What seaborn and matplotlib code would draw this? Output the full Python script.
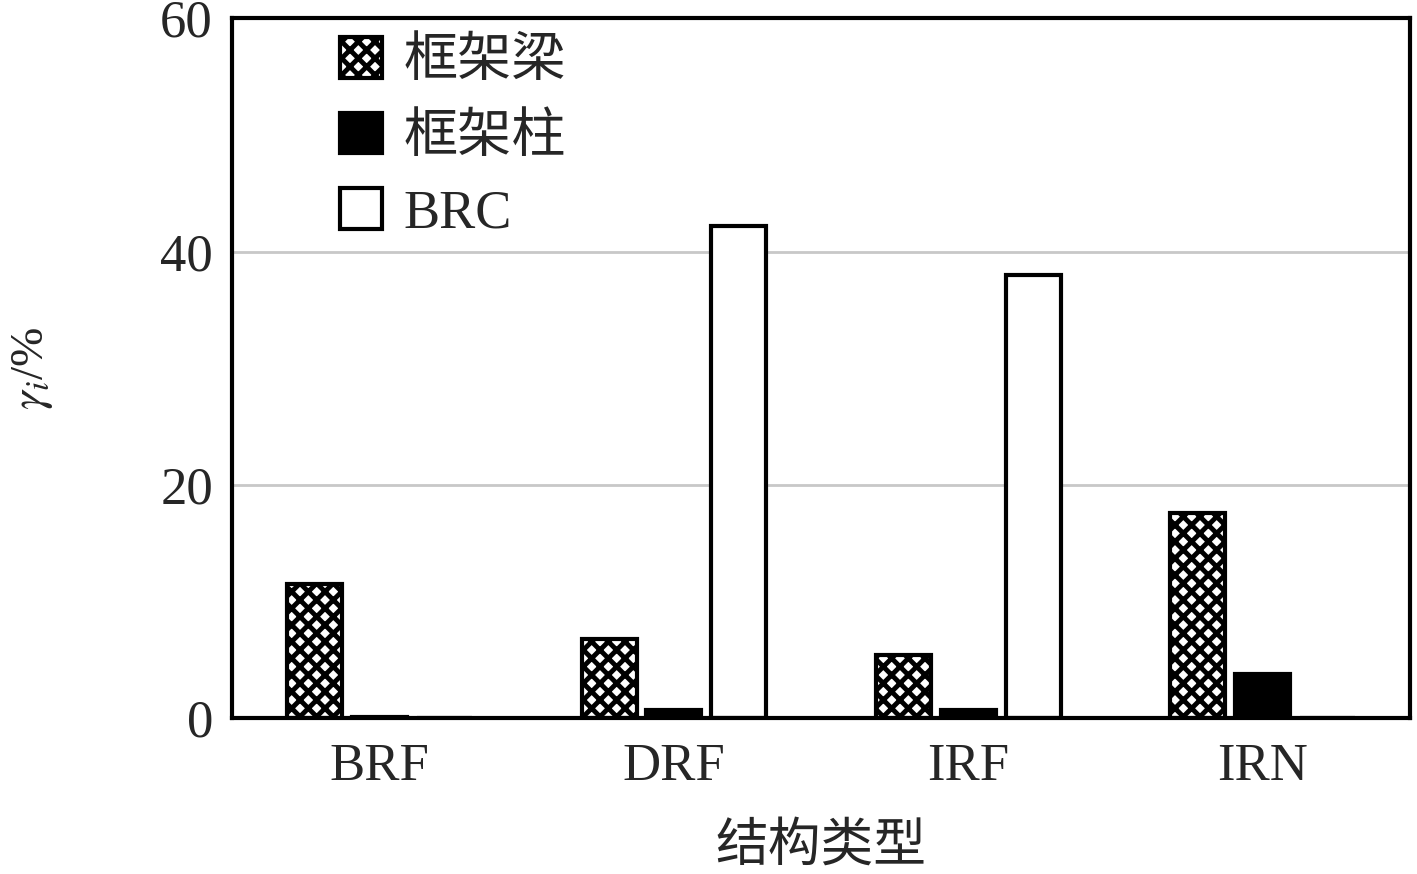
import pandas as pd
import matplotlib
matplotlib.use('Agg')
import matplotlib.pyplot as plt
import seaborn as sns

# data
structures = ['BRF', 'DRF', 'IRF', 'IRN']
members = ['框架梁', '框架柱', 'BRC']
beam = [11.5, 6.8, 5.4, 17.6]
column = [0.1, 0.7, 0.7, 3.8]
brc = [0.0, 42.2, 38.0, 0.0]

df = pd.DataFrame({
    'structure': structures * 3,
    'member': [m for m in members for _ in structures],
    'value': beam + column + brc,
})

sns.set_theme(style='white')
plt.rcParams['font.family'] = ['Liberation Serif', 'Noto Sans CJK SC', 'DejaVu Sans']
plt.rcParams['mathtext.fontset'] = 'stix'
plt.rcParams['hatch.linewidth'] = 3.5

fig, ax = plt.subplots(figsize=(14.17, 8.74), dpi=100)
fig.subplots_adjust(left=0.164, right=0.995, top=0.979, bottom=0.178)

sns.barplot(data=df, x='structure', y='value', hue='member', order=structures,
            hue_order=members, palette=['white', 'black', 'white'],
            width=0.66, gap=0.15, edgecolor='black', linewidth=3,
            saturation=1, ax=ax)

# hatch the beam bars
for bar in ax.containers[0]:
    bar.set_hatch('xx')

ax.set_ylim(0, 60)
ax.set_xlim(-0.5, 3.5)
ax.set_yticks([0, 20, 40, 60])
ax.yaxis.grid(True, color='#c8c8c8', linewidth=2)
ax.set_axisbelow(True)
for s in ax.spines.values():
    s.set_color('black')
    s.set_linewidth(3)
ax.tick_params(axis='y', direction='in', length=25, width=3, labelsize=38, pad=14,
               color='black')
ax.tick_params(axis='x', length=0, labelsize=38, pad=18)
ax.set_xlabel('结构类型', fontsize=38, labelpad=19, family=['Noto Sans CJK SC'])
ax.set_ylabel(r'$\gamma_i$/%', fontsize=34, labelpad=76)

handles, labels = ax.get_legend_handles_labels()
leg = ax.legend(handles, labels, loc='upper left', bbox_to_anchor=(0.05, 1.043),
                frameon=False, handlelength=0.78, handleheight=0.78,
                labelspacing=0.45, handletextpad=0.4,
                prop={'family': ['Liberation Serif', 'Noto Sans CJK SC'], 'size': 39})
leg.legend_handles[0].set_hatch('xx')
for h in leg.legend_handles:
    h.set_linewidth(3)

fig.savefig('out.png', dpi=100)
